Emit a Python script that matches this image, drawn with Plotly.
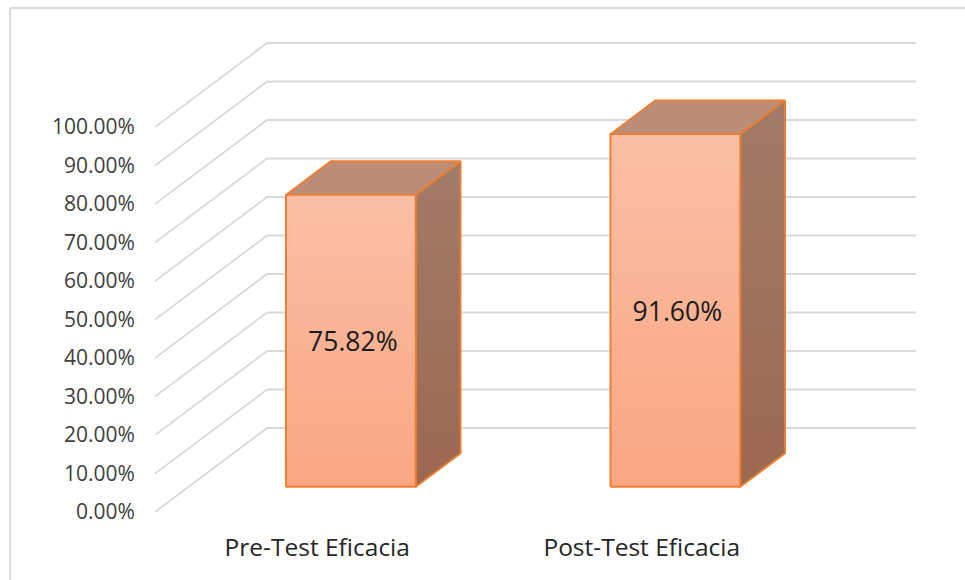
import plotly.graph_objects as go

# Chart data
categories = ["Pre-Test Eficacia", "Post-Test Eficacia"]
values = [75.82, 91.60]
axis_ticks = [0, 10, 20, 30, 40, 50, 60, 70, 80, 90, 100]
axis_labels = [f"{t:.2f}%" for t in axis_ticks]

# Canvas and plot box (pixels)
WIDTH, HEIGHT = 965, 580
LEFT, BOTTOM = 155, 68
PX_PER_SLOT, PX_PER_PERCENT = 324.5, 3.85
UNITS_X = (WIDTH - LEFT) / PX_PER_SLOT      # category slots visible along x
UNITS_Y = (HEIGHT - BOTTOM) / PX_PER_PERCENT  # percent visible along y

# Oblique projection: how far the back wall is shifted from the front plane
DEPTH_X = 112 / PX_PER_SLOT
DEPTH_Y = 84 / PX_PER_PERCENT
BAR_WIDTH = 0.4                       # gap width of 150 %
BAR_NEAR, BAR_FAR = 0.3, 0.7          # bar position within the floor depth

# Nudge that centres the value text optically on the front face
LABEL_DX = 2 / PX_PER_SLOT
LABEL_DY = -4 / PX_PER_PERCENT

GRID = "#D9D9D9"
EDGE = "#ED7D31"
TICK_FONT = dict(family="Open Sans", size=21, color="#404040")
CAT_FONT = dict(family="Open Sans", size=24.5, color="#262626")


def project(slot, value, depth):
    """Move a point of the 3-D box onto the flat plot."""
    return slot + depth * DEPTH_X, value + depth * DEPTH_Y


def face(points, **style):
    xs, ys = zip(*[project(*p) for p in points])
    return go.Scatter(x=list(xs) + [xs[0]], y=list(ys) + [ys[0]], mode="lines",
                      fill="toself", hoverinfo="skip", showlegend=False,
                      line=dict(color=EDGE, width=1.9), **style)


fig = go.Figure()

# Gridlines: diagonal along the side wall, then straight across the back wall
for tick in axis_ticks:
    xs, ys = zip(*[project(0, tick, 0), project(0, tick, 1), project(len(categories), tick, 1)])
    fig.add_trace(go.Scatter(x=xs, y=ys, mode="lines", hoverinfo="skip", showlegend=False,
                             line=dict(color=GRID, width=1.8)))

for i, (name, v) in enumerate(zip(categories, values)):
    x0 = i + 0.5 - BAR_WIDTH / 2
    x1 = i + 0.5 + BAR_WIDTH / 2

    # top face
    fig.add_trace(face([(x0, v, BAR_NEAR), (x1, v, BAR_NEAR), (x1, v, BAR_FAR), (x0, v, BAR_FAR)],
                       fillcolor="#BC8E78"))
    # right side face
    fig.add_trace(face([(x1, 0, BAR_NEAR), (x1, 0, BAR_FAR), (x1, v, BAR_FAR), (x1, v, BAR_NEAR)],
                       fillgradient=dict(type="vertical",
                                         colorscale=[[0, "#9C6850"], [1, "#A17C69"]])))
    # front face
    fig.add_trace(face([(x0, 0, BAR_NEAR), (x1, 0, BAR_NEAR), (x1, v, BAR_NEAR), (x0, v, BAR_NEAR)],
                       fillgradient=dict(type="vertical",
                                         colorscale=[[0, "#F9A682"], [1, "#FABFA6"]])))
    # value label in the middle of the front face
    lx, ly = project(i + 0.5, v / 2, BAR_NEAR)
    fig.add_trace(go.Scatter(x=[lx + LABEL_DX], y=[ly + LABEL_DY], mode="text", text=[f"{v:.2f}%"],
                             textposition="middle center", hoverinfo="skip", showlegend=False,
                             textfont=dict(family="Open Sans", size=26.5, color="#1A1A1A")))

# Outer chart frame: only the top and left edges fall on the canvas
plot_w = WIDTH - LEFT
plot_h = HEIGHT - BOTTOM
frame_x = (10 - LEFT) / plot_w
frame_y = (plot_h - 8) / plot_h
frame_bottom = (plot_h - HEIGHT - 5) / plot_h
frame_right = (WIDTH + 5 - LEFT) / plot_w
for x0, y0, x1, y1 in [(frame_x, frame_y, frame_right, frame_y),
                       (frame_x, frame_y, frame_x, frame_bottom)]:
    fig.add_shape(type="line", xref="paper", yref="paper", x0=x0, y0=y0, x1=x1, y1=y1,
                  line=dict(color="#D9D9D9", width=2), layer="below")

fig.update_layout(
    width=WIDTH, height=HEIGHT, autosize=False,
    margin=dict(l=LEFT, r=0, t=0, b=BOTTOM, pad=0),
    paper_bgcolor="white", plot_bgcolor="white", showlegend=False,
    xaxis=dict(range=[0, UNITS_X], tickmode="array",
               tickvals=[i + 0.5 for i in range(len(categories))], ticktext=categories,
               showgrid=False, zeroline=False, showline=False,
               ticks="outside", ticklen=14, tickcolor="rgba(0,0,0,0)", tickfont=CAT_FONT),
    yaxis=dict(range=[0, UNITS_Y], tickmode="array", tickvals=axis_ticks, ticktext=axis_labels,
               showgrid=False, zeroline=False, showline=False,
               ticks="outside", ticklen=15, tickcolor="rgba(0,0,0,0)", tickfont=TICK_FONT),
)

fig.write_html("out.html", config={"displayModeBar": False})
